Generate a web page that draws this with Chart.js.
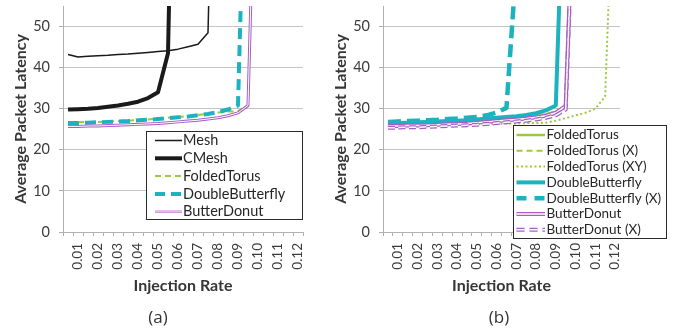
<!DOCTYPE html>
<html>
<head>
<meta charset="utf-8">
<script src="https://cdn.jsdelivr.net/npm/chart.js@4.4.0/dist/chart.umd.min.js"></script>
<style>
  html, body { margin: 0; padding: 0; background: #fff; }
  #wrap { position: relative; width: 675px; height: 331px; overflow: hidden; }
  canvas { position: absolute; top: 0; }
  #chartA { left: 0; }
  #chartB { left: 320px; }
  .cap { position: absolute; top: 305px; width: 60px; text-align: center; font: 17px 'Open Sans', sans-serif; color: #333; line-height: 24px; }
</style>
</head>
<body>
<div id="wrap">
  <canvas id="chartA" width="320" height="331"></canvas>
  <canvas id="chartB" width="355" height="331"></canvas>
  <div class="cap" style="left:128px">(a)</div>
  <div class="cap" style="left:469px">(b)</div>
</div>
<script>
const rates = ['0.005', '0.01', '0.015', '0.02', '0.025', '0.03', '0.035', '0.04', '0.045', '0.05', '0.055', '0.06',
  '0.065', '0.07', '0.075', '0.08', '0.085', '0.09', '0.095', '0.10', '0.105', '0.11', '0.115', '0.12'];

// panel (a)
const meshA = [43.2, 42.6, 42.8, 42.9, 43.0, 43.2, 43.3, 43.5, 43.7, 43.9, 44.1, 44.5, 45.1, 45.7, 48.5, 150];
const cmeshA = [29.8, 29.9, 30.0, 30.2, 30.5, 30.8, 31.2, 31.7, 32.6, 34.0, 43.5, 160];
const foldedA = [26.7, 26.7, 26.8, 26.8, 26.9, 27.0, 27.1, 27.3, 27.4, 27.6, 27.8, 28.0, 28.2, 28.5, 28.8, 29.1, 29.3, 29.4, 30.8, 118];
const doubleA = [26.5, 26.5, 26.6, 26.7, 26.8, 26.9, 27.0, 27.2, 27.3, 27.5, 27.7, 27.9, 28.1, 28.4, 28.7, 29.2, 29.8, 30.8, 120];
const donutA = [25.7, 25.7, 25.8, 25.8, 25.9, 26.0, 26.1, 26.2, 26.3, 26.4, 26.6, 26.8, 27.0, 27.2, 27.5, 27.8, 28.3, 29.0, 30.8, 120];

// panel (b)
const foldedB = [26.1, 26.1, 26.2, 26.2, 26.3, 26.4, 26.5, 26.6, 26.7, 26.8, 27.0, 27.2, 27.4, 27.6, 27.9, 28.2, 28.6, 29.3, 30.5, 96];
const foldedXB = [26.2, 26.2, 26.3, 26.3, 26.4, 26.5, 26.6, 26.7, 26.8, 26.9, 27.1, 27.3, 27.5, 27.7, 28.0, 28.3, 28.7, 29.4, 30.6, 98];
const foldedXYB = [25.9, 25.9, 26.0, 26.0, 26.0, 26.1, 26.1, 26.1, 26.2, 26.2, 26.3, 26.3, 26.4, 26.4, 26.5, 26.5, 26.6, 27.1, 27.7, 28.4, 29.0, 30.0, 33.0, 100];
const doubleB = [26.5, 26.5, 26.6, 26.7, 26.8, 26.9, 27.0, 27.1, 27.2, 27.4, 27.6, 27.8, 28.0, 28.2, 28.5, 28.9, 29.6, 30.8, 103];
const doubleXB = [26.8, 26.9, 27.0, 27.1, 27.2, 27.3, 27.5, 27.6, 27.8, 28.0, 28.4, 29.1, 30.2, 65];
const donutB = [25.8, 25.8, 25.9, 25.9, 26.0, 26.1, 26.2, 26.3, 26.4, 26.6, 26.8, 27.0, 27.2, 27.4, 27.6, 27.9, 28.3, 29.0, 30.7, 97];
const donutXB = [25.4, 25.4, 25.5, 25.5, 25.6, 25.7, 25.8, 25.9, 26.0, 26.1, 26.3, 26.5, 26.7, 26.9, 27.1, 27.4, 27.8, 28.4, 29.8, 95];

const FONT = 'Lato, sans-serif';
const BLACK = '#1a1a1a', GREEN = '#9dc93c', TEAL = '#1cb3bf', PURPLE = '#a65fc1';
const GRID = '#c4c4c4', AXIS = '#b0b0b0', TICK = '#3c3c3c', TITLE = '#363636';

// line styles (inner = white core width for the double lines)
const sty = {
  mesh: { color: BLACK, width: 1.5 },
  cmesh: { color: BLACK, width: 4 },
  foldedA: { color: GREEN, width: 2, dash: [6, 4] },
  doubleA: { color: TEAL, width: 4, dash: [11, 6] },
  donutA: { color: PURPLE, width: 3, inner: 1 },
  folded: { color: GREEN, width: 2.5 },
  foldedX: { color: GREEN, width: 2, dash: [6, 4] },
  foldedXY: { color: GREEN, width: 2, dash: [2, 2.5] },
  double: { color: TEAL, width: 4 },
  doubleX: { color: TEAL, width: 4.5, dash: [13, 6] },
  donut: { color: PURPLE, width: 4, inner: 1.5 },
  donutX: { color: PURPLE, width: 4, inner: 1.5, dash: [7, 3.5] },
};

function lineSets(label, data, st) {
  const base = {
    label, data, borderColor: st.color, borderWidth: st.width, borderDash: st.dash || [],
    pointRadius: 0, fill: false, tension: 0, borderCapStyle: 'butt', borderJoinStyle: 'round',
  };
  if (!st.inner) return [base];
  return [base, { ...base, label: label + ' core', borderColor: '#fff', borderWidth: st.inner }];
}

function strokeSample(ctx, x0, x1, y, st, dash) {
  ctx.beginPath();
  ctx.moveTo(x0, y);
  ctx.lineTo(x1, y);
  ctx.setLineDash(dash || st.dash || []);
  ctx.lineCap = 'butt';
  ctx.strokeStyle = st.color;
  ctx.lineWidth = st.width;
  ctx.stroke();
  if (st.inner) {
    ctx.strokeStyle = '#fff';
    ctx.lineWidth = st.inner;
    ctx.stroke();
  }
}

function legendPlugin(id, items, box) {
  return {
    id,
    afterDraw(chart) {
      const ctx = chart.ctx;
      ctx.save();
      ctx.fillStyle = '#fff';
      ctx.fillRect(box.x, box.y, box.w, box.h);
      ctx.setLineDash([]);
      ctx.strokeStyle = '#2a2a2a';
      ctx.lineWidth = 1;
      ctx.strokeRect(box.x, box.y, box.w, box.h);
      items.forEach((it, k) => {
        const y = box.row0 + k * box.gap;
        strokeSample(ctx, box.s0, box.s1, y, it.st, it.dash);
        ctx.setLineDash([]);
        ctx.font = box.font;
        ctx.textBaseline = 'middle';
        ctx.fillStyle = '#262626';
        ctx.fillText(it.label, box.tx, y);
      });
      ctx.restore();
    }
  };
}

function scaleOpts() {
  return {
    x: {
      type: 'category', offset: true,
      grid: { offset: true, drawOnChartArea: false, tickLength: 4, color: AXIS },
      border: { color: AXIS },
      ticks: {
        autoSkip: false, minRotation: 90, maxRotation: 90, padding: 7, color: TICK,
        font: { family: FONT, size: 13.5 },
        callback: (v, i) => (i % 2 === 1 ? rates[i] : ''),
      },
      title: { display: true, text: 'Injection Rate', color: TITLE, font: { family: FONT, size: 16, weight: 'bold' }, padding: { top: 0, bottom: 36 } },
      afterFit: (s) => { s.height = 99; s.paddingLeft = 0; s.paddingRight = 0; },
    },
    y: {
      min: 0, max: 55, bounds: 'data',
      ticks: { stepSize: 10, padding: 9, color: TICK, font: { family: FONT, size: 14.5 } },
      grid: { color: GRID, tickLength: 4, tickColor: AXIS },
      border: { color: AXIS },
      title: { display: true, text: 'Average Packet Latency', color: TITLE, font: { family: FONT, size: 16, weight: 'bold' }, padding: { top: 11, bottom: 0 } },
      // only the round tens get a label and a grid line
      afterBuildTicks: (s) => { s.ticks = s.ticks.filter((t) => t.value % 10 === 0); },
      afterFit: (s) => { s.width = 63; s.paddingTop = 0; s.paddingBottom = 0; },
    },
  };
}

function build(canvasId, datasets, padRight, legend) {
  datasets.forEach((d, i) => { d.order = -i; });
  return new Chart(document.getElementById(canvasId), {
    type: 'line',
    data: { labels: rates, datasets },
    options: {
      responsive: false,
      animation: false,
      layout: { padding: { top: 6, right: padRight, bottom: 0, left: 0 } },
      scales: scaleOpts(),
      plugins: { legend: { display: false }, tooltip: { enabled: false } },
    },
    plugins: [legend],
  });
}

build('chartA', [
  ...lineSets('Mesh', meshA, sty.mesh),
  ...lineSets('CMesh', cmeshA, sty.cmesh),
  ...lineSets('FoldedTorus', foldedA, sty.foldedA),
  ...lineSets('DoubleButterfly', doubleA, sty.doubleA),
  ...lineSets('ButterDonut', donutA, sty.donutA),
], 17, legendPlugin('legendA', [
  { label: 'Mesh', st: sty.mesh },
  { label: 'CMesh', st: sty.cmesh },
  { label: 'FoldedTorus', st: sty.foldedA },
  { label: 'DoubleButterfly', st: sty.doubleA, dash: [10, 6] },
  { label: 'ButterDonut', st: { color: '#c48ad4', width: 2.5, inner: 0.6 } },
], { x: 146.5, y: 131.5, w: 156, h: 88, row0: 140.5, gap: 17.8, s0: 155, s1: 182, tx: 183, font: '14.5px ' + FONT }));

build('chartB', [
  ...lineSets('FoldedTorus', foldedB, sty.folded),
  ...lineSets('FoldedTorus (X)', foldedXB, sty.foldedX),
  ...lineSets('FoldedTorus (XY)', foldedXYB, sty.foldedXY),
  ...lineSets('DoubleButterfly', doubleB, sty.double),
  ...lineSets('DoubleButterfly (X)', doubleXB, sty.doubleX),
  ...lineSets('ButterDonut', donutB, sty.donut),
  ...lineSets('ButterDonut (X)', donutXB, sty.donutX),
], 55, legendPlugin('legendB', [
  { label: 'FoldedTorus', st: sty.folded },
  { label: 'FoldedTorus (X)', st: sty.foldedX },
  { label: 'FoldedTorus (XY)', st: sty.foldedXY },
  { label: 'DoubleButterfly', st: sty.double },
  { label: 'DoubleButterfly (X)', st: sty.doubleX, dash: [10, 8] },
  { label: 'ButterDonut', st: sty.donut },
  { label: 'ButterDonut (X)', st: sty.donutX, dash: [8, 5] },
], { x: 193.5, y: 125.5, w: 153, h: 113, row0: 135, gap: 15.8, s0: 196.5, s1: 225, tx: 226.5, font: '13.5px ' + FONT }));
</script>
</body>
</html>
